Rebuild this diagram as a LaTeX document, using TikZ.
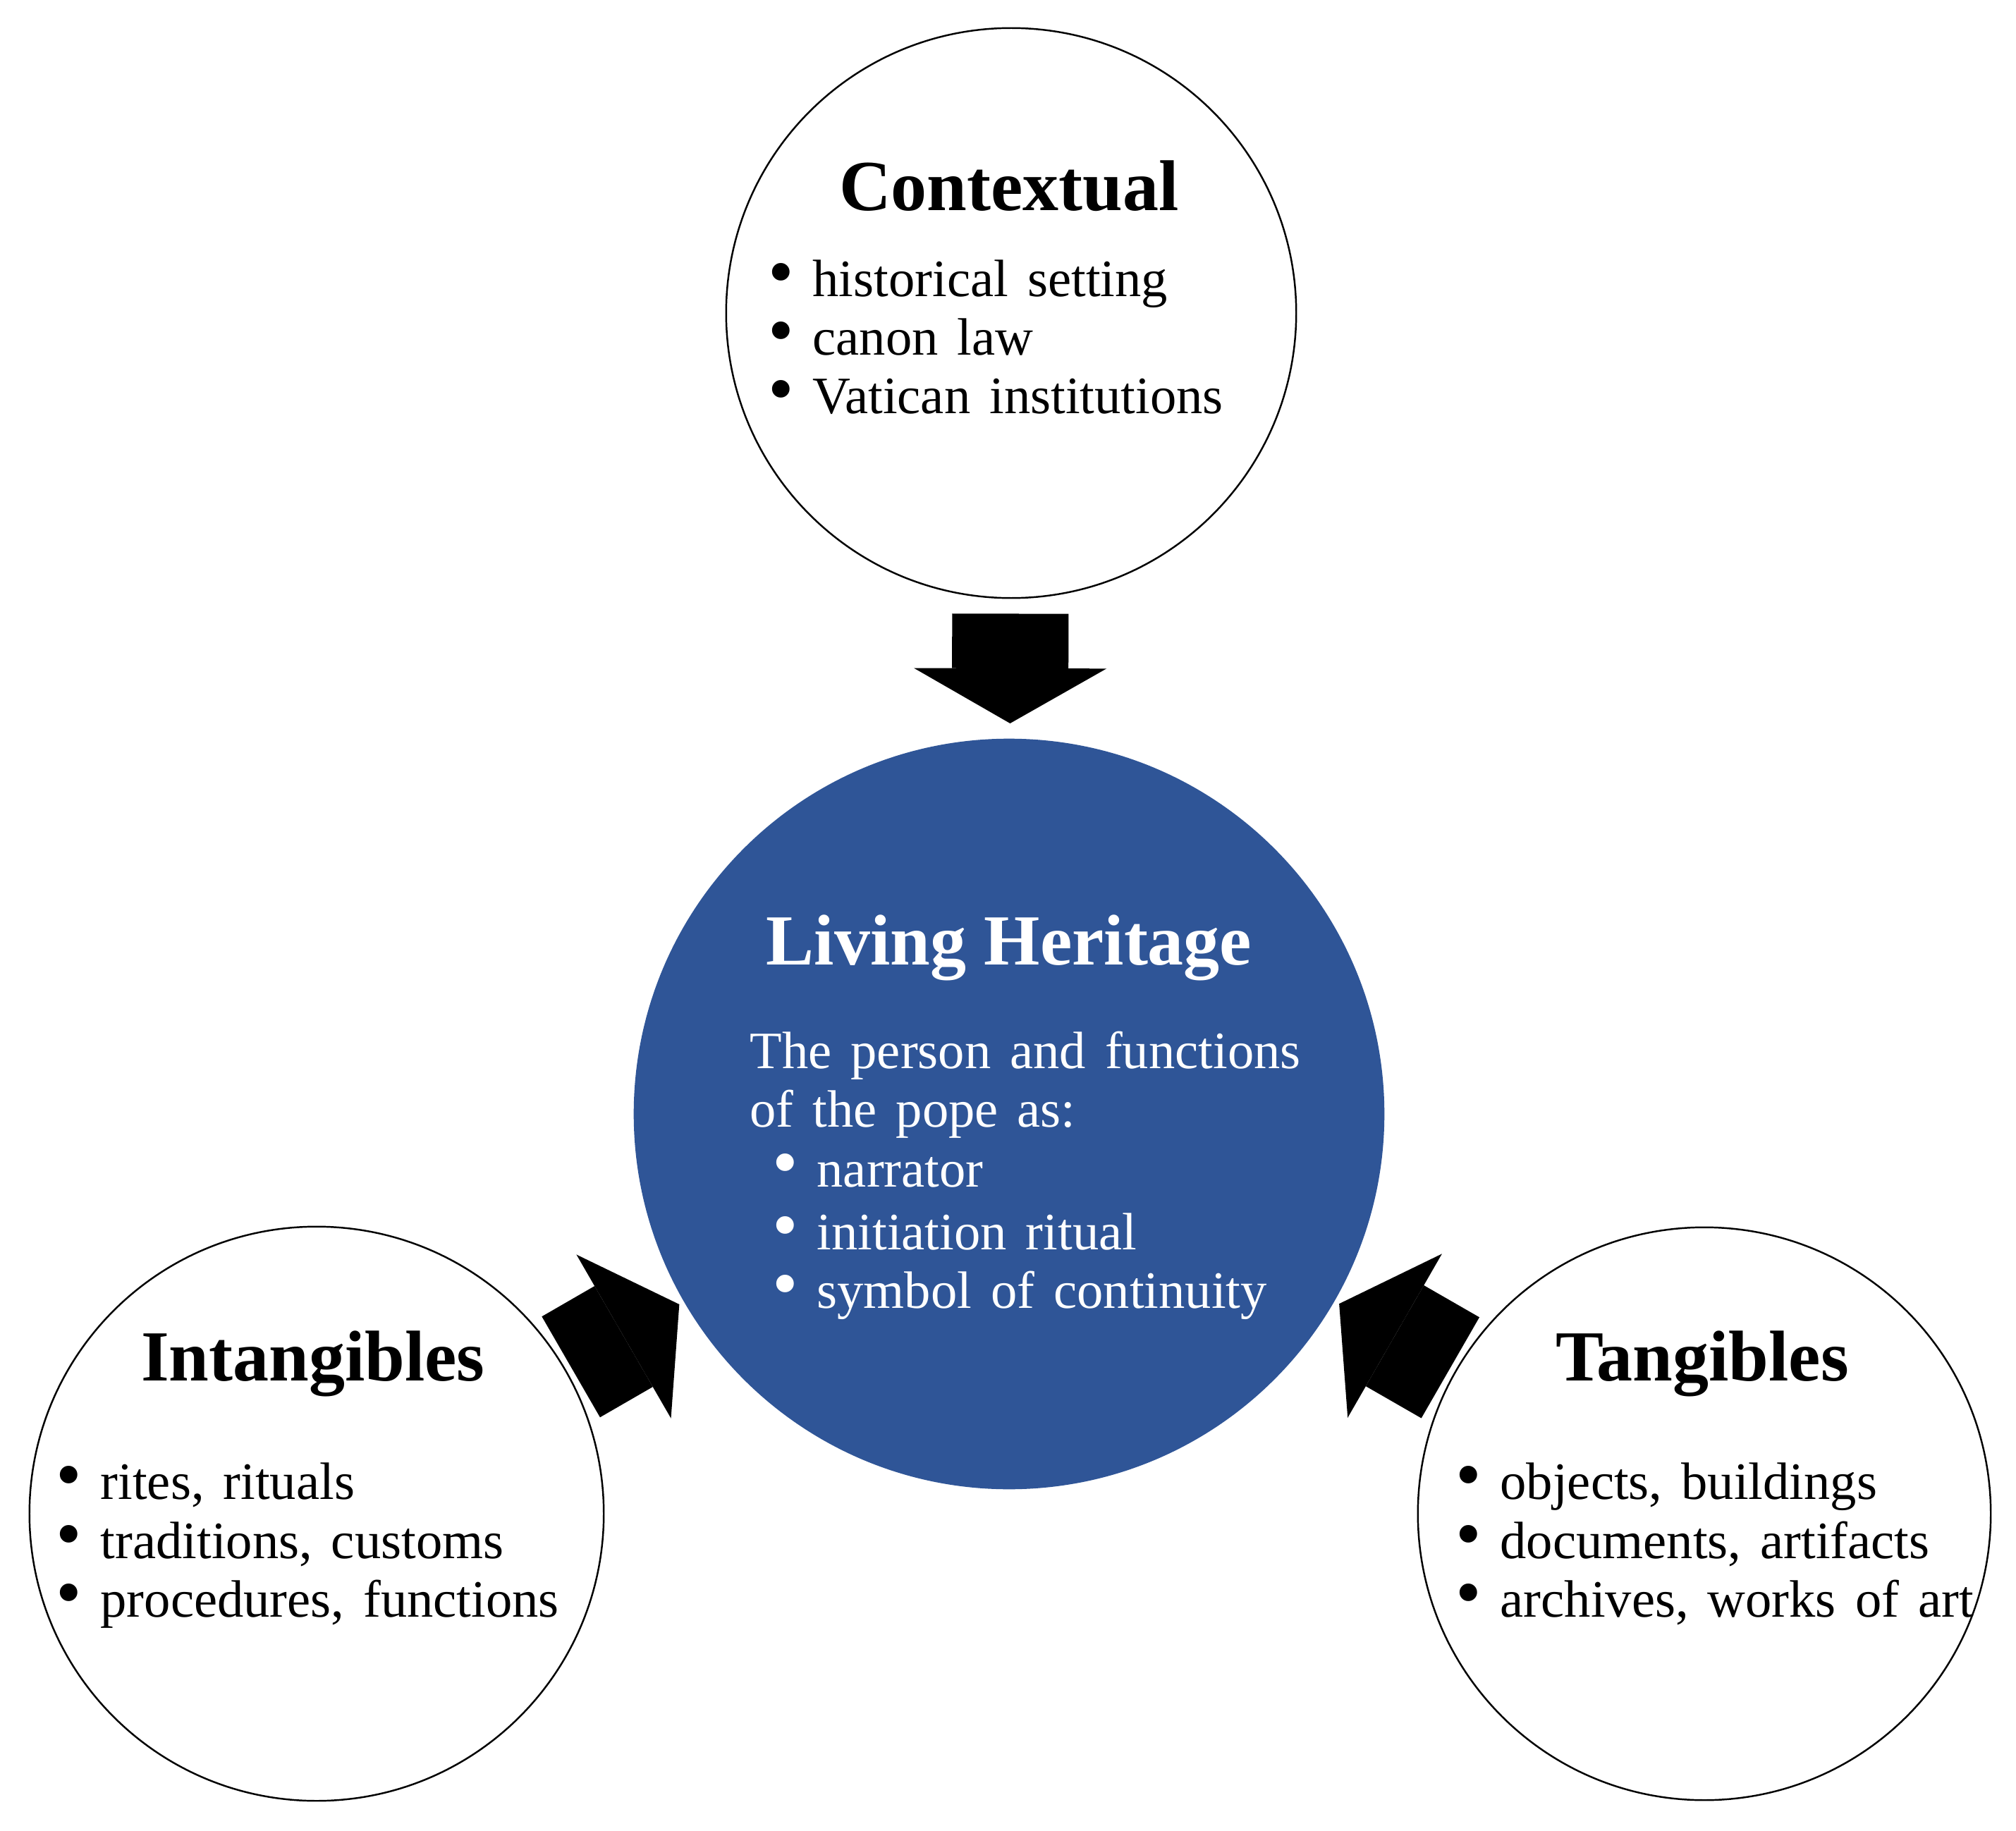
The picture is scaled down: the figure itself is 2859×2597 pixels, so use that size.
\documentclass[tikz,border=0pt]{standalone}
\usepackage{fontspec}
\setmainfont{Liberation Serif}
\newfontfamily\bodyfont{Liberation Serif}[WordSpace=1.45]
\usetikzlibrary{arrows.meta}

\definecolor{livblue}{HTML}{2F5597}

\tikzset{
  topic/.style={circle, draw, line width=0.7pt, inner sep=0pt},
  core/.style={circle, fill=livblue, inner sep=0pt},
  head/.style={anchor=base, inner sep=0pt, font=\fontsize{29}{32}\selectfont\bfseries},
  item/.style={anchor=base west, inner sep=0pt, text height=0.5cm, text depth=0.12cm,
    font=\bodyfont\fontsize{21.2}{24}\selectfont},
  toparrow/.style={line width=1.65cm, -{Triangle[width=2.73cm,length=0.78cm,line width=0pt]}},
  sidearrow/.style={line width=1.65cm, -{Triangle[width=2.68cm,length=0.91cm,line width=0pt]}}
}
\newcommand{\bul}{\llap{\makebox[0.9cm]{\smash{\scalebox{1.4}{\textbullet}}}}}

\begin{document}
\begin{tikzpicture}[x=0.01cm, y=0.01cm]
  \useasboundingbox (0,0) rectangle (2859,-2597);

  % Circles
  \node[topic, minimum size=8.08cm] (ctx) at (1434,-444) {};
  \node[core, minimum size=10.64cm] (liv) at (1431,-1580) {};
  \node[topic, minimum size=8.14cm] (intl) at (449,-2147) {};
  \node[topic, minimum size=8.12cm] (tang) at (2417,-2147) {};

  % Block arrows into the centre
  \draw[toparrow, shorten <=0.21cm, shorten >=0.21cm] (ctx) -- (liv);
  \draw[sidearrow, shorten <=0.08cm, shorten >=0.07cm] (intl) -- (liv);
  \draw[sidearrow, shorten <=0.08cm, shorten >=0.07cm] (tang) -- (liv);

  % Headings
  \node[head] (ctxhead) at (1431,-299) {Contextual};
  \node[head, text=white] (livhead) at (1431,-1368) {Living Heritage};
  \node[head] (intlhead) at (444,-1958) {Intangibles};
  \node[head] (tanghead) at (2414,-1958) {Tangibles};

  % Contextual list
  \foreach \txt/\yy [count=\i] in {historical setting/-420, canon law/-504, Vatican institutions/-587}
    \node[item] (ctx\i) at (1152,\yy) {\bul\txt};

  % Living heritage text
  \node[item, text=white] (livtxt1) at (1063,-1515) {The person and functions};
  \node[item, text=white] (livtxt2) at (1063,-1598) {of the pope as:};
  \foreach \txt/\yy [count=\i] in {narrator/-1683, initiation ritual/-1772, symbol of continuity/-1855}
    \node[item, text=white] (liv\i) at (1158,\yy) {\bul\txt};

  % Intangibles list
  \foreach \txt/\yy [count=\i] in {{rites, rituals}/-2126, {traditions, customs}/-2210, {procedures, functions}/-2293}
    \node[item] (intl\i) at (142,\yy) {\bul\txt};

  % Tangibles list
  \foreach \txt/\yy [count=\i] in {{objects, buildings}/-2126, {documents, artifacts}/-2210, {archives, works of art}/-2293}
    \node[item] (tang\i) at (2127,\yy) {\bul\txt};
\end{tikzpicture}
\end{document}
